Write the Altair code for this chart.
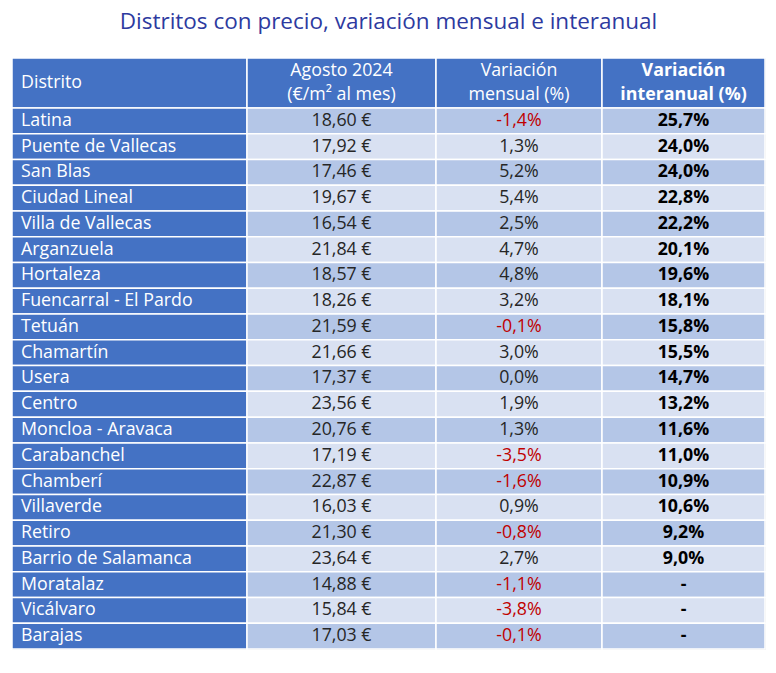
import altair as alt
import pandas as pd

districts = ["Latina", "Puente de Vallecas", "San Blas", "Ciudad Lineal", "Villa de Vallecas",
             "Arganzuela", "Hortaleza", "Fuencarral - El Pardo", "Tetuán", "Chamartín", "Usera",
             "Centro", "Moncloa - Aravaca", "Carabanchel", "Chamberí", "Villaverde", "Retiro",
             "Barrio de Salamanca", "Moratalaz", "Vicálvaro", "Barajas"]
price = [18.60, 17.92, 17.46, 19.67, 16.54, 21.84, 18.57, 18.26, 21.59, 21.66, 17.37,
         23.56, 20.76, 17.19, 22.87, 16.03, 21.30, 23.64, 14.88, 15.84, 17.03]
monthly = [-1.4, 1.3, 5.2, 5.4, 2.5, 4.7, 4.8, 3.2, -0.1, 3.0, 0.0,
           1.9, 1.3, -3.5, -1.6, 0.9, -0.8, 2.7, -1.1, -3.8, -0.1]
annual = [25.7, 24.0, 24.0, 22.8, 22.2, 20.1, 19.6, 18.1, 15.8, 15.5, 14.7,
          13.2, 11.6, 11.0, 10.9, 10.6, 9.2, 9.0, None, None, None]
headers = ["Distrito", "Agosto 2024\n(€/m² al mes)", "Variación\nmensual (%)", "Variación\ninteranual (%)"]
title = "Distritos con precio, variación mensual e interanual"

# layout
col_widths = [235, 189, 166, 163]
header_units = 1.94
BLUE = "#4472C4"
DARK_ROW = "#B4C6E7"
LIGHT_ROW = "#D9E1F2"
RED = "#C00000"
TXT = "#262626"
FONT = "Open Sans"
FS = 17.8
LH = 24

edges = [0]
for w in col_widths:
    edges.append(edges[-1] + w)
total_w = edges[-1]
n = len(districts)
total_h = header_units + n


def fmt(v, dec, suffix):
    return f"{v:.{dec}f}".replace(".", ",") + suffix


rects = []
texts = []
# header
for c, h in enumerate(headers):
    rects.append(dict(x0=edges[c], x1=edges[c + 1], y0=0, y1=header_units, fill=BLUE))
    texts.append(dict(kind="hleft" if c == 0 else ("hbold" if c == 3 else "hcenter"),
                      xl=edges[c] + 9, xc=(edges[c] + edges[c + 1]) / 2,
                      yc=header_units / 2, text=h, tcolor="white"))
for i in range(n):
    y0 = header_units + i
    y1 = y0 + 1
    yc = y0 + 0.5
    rowfill = DARK_ROW if i % 2 == 0 else LIGHT_ROW
    vals = [districts[i], fmt(price[i], 2, " €"), fmt(monthly[i], 1, "%"),
            "-" if annual[i] is None else fmt(annual[i], 1, "%")]
    for c, v in enumerate(vals):
        rects.append(dict(x0=edges[c], x1=edges[c + 1], y0=y0, y1=y1,
                          fill=BLUE if c == 0 else rowfill))
        if c == 0:
            kind, col = "left", "white"
        elif c == 3:
            kind, col = "bold", "black"
        else:
            kind = "center"
            col = RED if (c == 2 and monthly[i] < 0) else TXT
        texts.append(dict(kind=kind, xl=edges[c] + 9, xc=(edges[c] + edges[c + 1]) / 2,
                          yc=yc, text=v, tcolor=col))

rdf = pd.DataFrame(rects)
tdf = pd.DataFrame(texts)

xs = alt.Scale(domain=[0, total_w], nice=False, zero=False)
ys = alt.Scale(domain=[0, total_h], nice=False, zero=False, reverse=True)

base_rect = alt.Chart(rdf).mark_rect(stroke="white", strokeWidth=1.5).encode(
    x=alt.X("x0:Q", scale=xs, axis=None),
    x2="x1:Q",
    y=alt.Y("y0:Q", scale=ys, axis=None),
    y2="y1:Q",
    color=alt.Color("fill:N", scale=None),
)

tbase = alt.Chart(tdf)


def tlayer(kind, align, xfield, weight, dy=0):
    return tbase.transform_filter(alt.datum.kind == kind).mark_text(
        align=align, baseline="middle", font=FONT, fontSize=FS, fontWeight=weight,
        lineBreak="\n", lineHeight=LH, dy=dy,
    ).encode(
        x=alt.X(f"{xfield}:Q", scale=xs, axis=None),
        y=alt.Y("yc:Q", scale=ys, axis=None),
        text="text:N",
        color=alt.Color("tcolor:N", scale=None),
    )


chart = alt.layer(
    base_rect,
    tlayer("hleft", "left", "xl", "normal"),
    tlayer("hcenter", "center", "xc", "normal", dy=-LH / 2),
    tlayer("hbold", "center", "xc", "bold", dy=-LH / 2),
    tlayer("left", "left", "xl", "normal"),
    tlayer("center", "center", "xc", "normal"),
    tlayer("bold", "center", "xc", "bold"),
).properties(
    width=total_w, height=591,
    padding={"left": 3, "top": 2, "right": 0, "bottom": 0},
    title=alt.Title(title, font=FONT, fontSize=22.5, fontWeight="normal", color="#2D3AA0",
                    anchor="middle", offset=24),
).configure_view(stroke=None).configure(background="white")

chart.save("out.html", embed_options={"renderer": "svg", "actions": False})
